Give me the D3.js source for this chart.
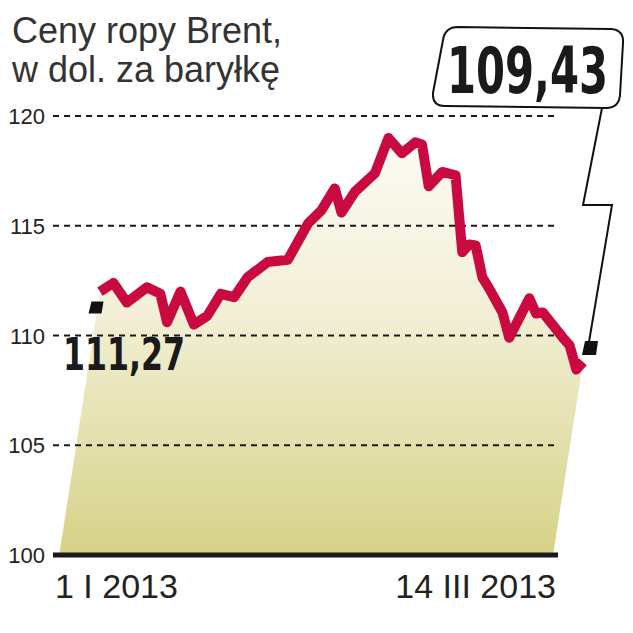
<!DOCTYPE html>
<html>
<head>
<meta charset="utf-8">
<script src="https://cdn.jsdelivr.net/npm/d3@7"></script>
<style>
  html, body { margin: 0; padding: 0; background: #fff; }
  svg { display: block; }
</style>
</head>
<body>
<div id="chart"></div>
<script>
// Brent crude prices, 1 Jan - 14 Mar 2013 (USD per barrel)
const days = [0, 2, 4, 7, 9, 10, 12, 14, 16, 18, 20, 22, 25, 28, 31, 33, 35, 36, 38, 41,
  43, 45, 47, 48, 49, 51, 53, 54, 55, 56, 57, 58, 60, 61, 64, 65, 66, 69, 70, 71, 72];
const prices = [112.0, 112.4, 111.5, 112.2, 111.9, 110.6, 112.0, 110.5, 110.9, 111.9, 111.75, 112.65, 113.35, 113.45, 115.1, 115.7, 116.7, 115.6, 116.55, 117.4,
  119.0, 118.3, 118.8, 118.7, 116.8, 117.45, 117.3, 113.8, 114.15, 114.1, 112.65, 112.15, 111.05, 109.9, 111.7, 111.0, 111.05, 109.9, 109.55, 108.45, 108.8];
const yTicks = [100, 105, 110, 115, 120];
const startValue = 111.27;
const endValue = 109.43;
const xLabels = ['1 I 2013', '14 III 2013'];
const title = ['Ceny ropy Brent,', 'w dol. za baryłkę'];

const width = 633, height = 633;
const bold = '"DejaVu Sans Condensed", "DejaVu Sans", sans-serif';
const regular = '"Liberation Sans", Arial, sans-serif';

const svg = d3.select('#chart').append('svg')
  .attr('width', width)
  .attr('height', height);

const x = d3.scaleLinear().domain([0, 72]).range([100, 583]);
const y = d3.scaleLinear().domain([100, 120]).range([555, 116]);
const skew = 0.155;

const data = days.map((d, i) => ({ day: d, value: prices[i] }));
const pts = data.map(d => [x(d.day), y(d.value)]);

// gradient for the area
const defs = svg.append('defs');
const grad = defs.append('linearGradient')
  .attr('id', 'areaGrad')
  .attr('gradientUnits', 'userSpaceOnUse')
  .attr('x1', 0).attr('x2', 0)
  .attr('y1', y(120)).attr('y2', y(100));
grad.append('stop').attr('offset', '0%').attr('stop-color', '#fefdf8');
grad.append('stop').attr('offset', '45%').attr('stop-color', '#f2efd6');
grad.append('stop').attr('offset', '100%').attr('stop-color', '#d6d287');

// skewed area under the line
const first = pts[0], last = pts[pts.length - 1];
const bottom = y(100);
const poly = [[first[0] - skew * (bottom - first[1]), bottom]]
  .concat(pts)
  .concat([[last[0] - skew * (bottom - last[1]), bottom]]);
svg.append('path')
  .attr('d', d3.line()(poly) + 'Z')
  .attr('fill', 'url(#areaGrad)');

// gridlines
svg.append('g')
  .selectAll('line')
  .data(yTicks.filter(t => t > 100))
  .enter()
  .append('line')
  .attr('x1', 53)
  .attr('x2', 557)
  .attr('y1', d => y(d))
  .attr('y2', d => y(d))
  .attr('stroke', '#1a1a1a')
  .attr('stroke-width', 2)
  .attr('stroke-dasharray', '6,5');

// baseline
svg.append('line')
  .attr('x1', 53).attr('x2', 558)
  .attr('y1', y(100)).attr('y2', y(100))
  .attr('stroke', '#1a1a1a')
  .attr('stroke-width', 5);

// y tick labels
svg.append('g')
  .selectAll('text')
  .data(yTicks)
  .enter()
  .append('text')
  .attr('x', 45)
  .attr('y', d => y(d) + 8)
  .attr('text-anchor', 'end')
  .attr('font-family', regular)
  .attr('font-size', 22)
  .attr('fill', '#222')
  .text(d => d);

// price line
svg.append('path')
  .datum(data)
  .attr('d', d3.line().x(d => x(d.day)).y(d => y(d.value)))
  .attr('fill', 'none')
  .attr('stroke', '#c90a40')
  .attr('stroke-width', 10)
  .attr('stroke-linejoin', 'round');

// end markers
const mk = (cx, cy, w, h) => `M${cx - w / 2 + 2},${cy - h / 2}L${cx + w / 2 + 1},${cy - h / 2}L${cx + w / 2 - 1},${cy + h / 2}L${cx - w / 2 - 1},${cy + h / 2}Z`;
svg.append('path').attr('d', mk(x(0) - 4, y(startValue), 13, 12)).attr('fill', '#111');
svg.append('path').attr('d', mk(x(72) + 7, y(endValue), 14, 14)).attr('fill', '#111');

// condensed bold number, squeezed to a given width
function boldLabel(parent, tx, ty, size, w, str) {
  const g = parent.append('g');
  const t = g.append('text')
    .attr('font-family', bold)
    .attr('font-weight', 'bold')
    .attr('font-size', size)
    .attr('fill', '#1a1a1a')
    .text(str);
  const natural = t.node().getComputedTextLength() || w;
  g.attr('transform', `translate(${tx},${ty}) scale(${w / natural},1)`);
}

// start value label
boldLabel(svg, 63, 370, 44, 122, startValue.toFixed(2).replace('.', ','));

// callout box for end value
const box = 'M458,27 L611,29 Q624,30 623,43 L620,95 Q619,108 606,108 L445,106 Q432,106 433,93 L443,40 Q445,27 458,27 Z';
svg.append('path')
  .attr('d', box)
  .attr('fill', '#fff')
  .attr('stroke', '#111')
  .attr('stroke-width', 2);
boldLabel(svg, 447, 93, 64, 161, endValue.toFixed(2).replace('.', ','));
svg.append('path')
  .attr('d', `M602,108 L583,205 L612,205 L${x(72) + 6},${y(endValue) - 6}`)
  .attr('fill', 'none')
  .attr('stroke', '#111')
  .attr('stroke-width', 2);

// x labels
svg.append('text')
  .attr('x', 55).attr('y', 598)
  .attr('font-family', regular)
  .attr('font-size', 34)
  .attr('fill', '#222')
  .text(xLabels[0]);
svg.append('text')
  .attr('x', 556).attr('y', 598)
  .attr('text-anchor', 'end')
  .attr('font-family', regular)
  .attr('font-size', 34)
  .attr('fill', '#222')
  .text(xLabels[1]);

// title
svg.append('g')
  .selectAll('text')
  .data(title)
  .enter()
  .append('text')
  .attr('x', 12)
  .attr('y', (d, i) => 43 + i * 39)
  .attr('font-family', regular)
  .attr('font-size', 36)
  .attr('fill', '#333')
  .text(d => d);
</script>
</body>
</html>
